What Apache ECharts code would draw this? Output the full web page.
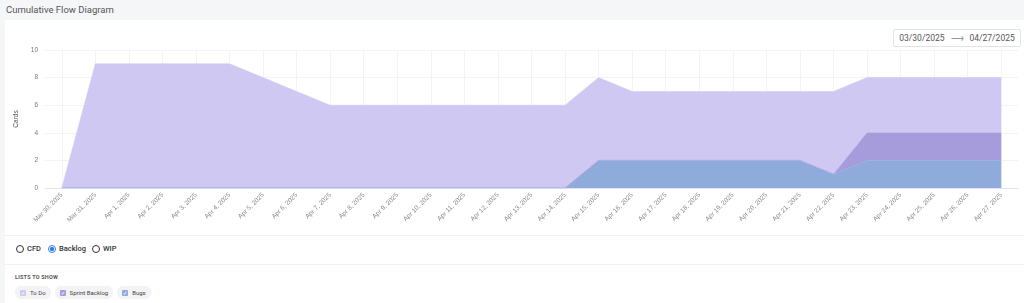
<!DOCTYPE html>
<html>
<head>
<meta charset="utf-8">
<script src="https://cdn.jsdelivr.net/npm/echarts@6/dist/echarts.min.js"></script>
<style>
  body { margin:0; background:#f5f6f8; font-family:Roboto, "Noto Sans", sans-serif; width:1024px; height:303px; overflow:hidden; position:relative; }
  .title { position:absolute; left:6px; top:4px; font-size:9.5px; color:#555; }
  .card { position:absolute; left:5px; top:20px; width:1019px; height:283px; background:#fff; }
  #chart { position:absolute; left:0; top:0; width:1024px; height:235px; }
  .range { position:absolute; left:893px; top:29px; width:126px; height:16px; border:1px solid #e3e3e3; border-radius:2px; background:#fff;
           font-size:8.5px; color:#555; line-height:16px; text-align:center; }
  .range span { color:#999; margin:0 6px; }
  .hr { position:absolute; left:5px; width:1019px; height:1px; background:#f1f1f3; }
  .radio { position:absolute; top:244px; font-size:7.5px; color:#333; font-weight:500; display:flex; align-items:center; }
  .radio i { display:inline-block; width:6px; height:6px; border:1px solid #333; border-radius:50%; margin-right:3px; box-sizing:content-box; }
  .radio i.on { border-color:#2f7fe8; background:radial-gradient(circle, #2f7fe8 0 2px, #fff 2.3px); }
  .lists { position:absolute; left:15px; top:274px; font-size:5.5px; font-weight:700; color:#555; letter-spacing:0.2px; }
  .chips { position:absolute; left:15px; top:286px; display:flex; gap:4px; }
  .chip { height:13px; border-radius:6px; background:#f3f3f6; font-size:6px; color:#444; white-space:nowrap;
          display:flex; align-items:center; padding:0 5px 0 5px; box-sizing:border-box; }
  .chip b { display:inline-block; width:6px; height:6px; border-radius:1px; margin-right:4px; color:#fff; font-size:5px; line-height:6px; text-align:center; }
</style>
</head>
<body>
<div class="title">Cumulative Flow Diagram</div>
<div class="card"></div>
<div id="chart"></div>
<div class="range">03/30/2025<span>⟶</span>04/27/2025</div>
<div class="hr" style="top:235px"></div>
<div class="radio" style="left:16px"><i></i>CFD</div>
<div class="radio" style="left:48px"><i class="on"></i>Backlog</div>
<div class="radio" style="left:92px"><i></i>WIP</div>
<div class="hr" style="top:264px"></div>
<div class="lists">LISTS TO SHOW</div>
<div class="chips">
  <div class="chip"><b style="background:#cfc8f3">✓</b>To Do</div>
  <div class="chip"><b style="background:#a69cdb">✓</b>Sprint Backlog</div>
  <div class="chip"><b style="background:#8fabdc">✓</b>Bugs</div>
</div>
<script>
var dates = ['Mar 30, 2025', 'Mar 31, 2025', 'Apr 1, 2025', 'Apr 2, 2025', 'Apr 3, 2025', 'Apr 4, 2025',
  'Apr 5, 2025', 'Apr 6, 2025', 'Apr 7, 2025', 'Apr 8, 2025', 'Apr 9, 2025', 'Apr 10, 2025', 'Apr 11, 2025',
  'Apr 12, 2025', 'Apr 13, 2025', 'Apr 14, 2025', 'Apr 15, 2025', 'Apr 16, 2025', 'Apr 17, 2025', 'Apr 18, 2025',
  'Apr 19, 2025', 'Apr 20, 2025', 'Apr 21, 2025', 'Apr 22, 2025', 'Apr 23, 2025', 'Apr 24, 2025', 'Apr 25, 2025',
  'Apr 26, 2025', 'Apr 27, 2025'];
var bugs = [0, 0, 0, 0, 0, 0, 0, 0, 0, 0, 0, 0, 0, 0, 0, 0, 2, 2, 2, 2, 2, 2, 2, 1, 2, 2, 2, 2, 2];
var sprintBacklog = [0, 0, 0, 0, 0, 0, 0, 0, 0, 0, 0, 0, 0, 0, 0, 0, 0, 0, 0, 0, 0, 0, 0, 0, 2, 2, 2, 2, 2];
var toDo = [0, 9, 9, 9, 9, 9, 8, 7, 6, 6, 6, 6, 6, 6, 6, 6, 6, 5, 5, 5, 5, 5, 5, 6, 4, 4, 4, 4, 4];
var yTicks = [0, 2, 4, 6, 8, 10];

var chart = echarts.init(document.getElementById('chart'));

function areaSeries(name, data, color){
  return {
    name: name,
    type: 'line',
    stack: 'total',
    data: data,
    symbol: 'none',
    lineStyle: { width: 0.5, color: color },
    itemStyle: { color: color },
    areaStyle: { color: color, opacity: 1 }
  };
}

chart.setOption({
  animation: false,
  grid: { left: 45, right: 6, top: 50, bottom: 47 },
  xAxis: {
    type: 'category',
    data: dates,
    boundaryGap: true,
    axisLine: { lineStyle: { color: '#dfe3f3' } },
    axisTick: { show: false },
    axisLabel: { interval: 0, rotate: 45, fontSize: 6.5, color: '#888', margin: 6 },
    splitLine: { show: true, alignWithLabel: true, lineStyle: { color: '#f3f3f5' } }
  },
  yAxis: {
    type: 'value',
    min: yTicks[0],
    max: yTicks[yTicks.length - 1],
    interval: 2,
    name: 'Cards',
    nameLocation: 'middle',
    nameGap: 12,
    nameTextStyle: { fontSize: 6.5, color: '#555' },
    axisLine: { show: false },
    axisTick: { show: false },
    axisLabel: { fontSize: 6.5, color: '#777', margin: 7 },
    splitLine: { lineStyle: { color: '#f3f3f5' } }
  },
  series: [
    areaSeries('Bugs', bugs, '#8fabdc'),
    areaSeries('Sprint Backlog', sprintBacklog, '#a69cdb'),
    areaSeries('To Do', toDo, '#cfc8f3')
  ]
});
</script>
</body>
</html>
